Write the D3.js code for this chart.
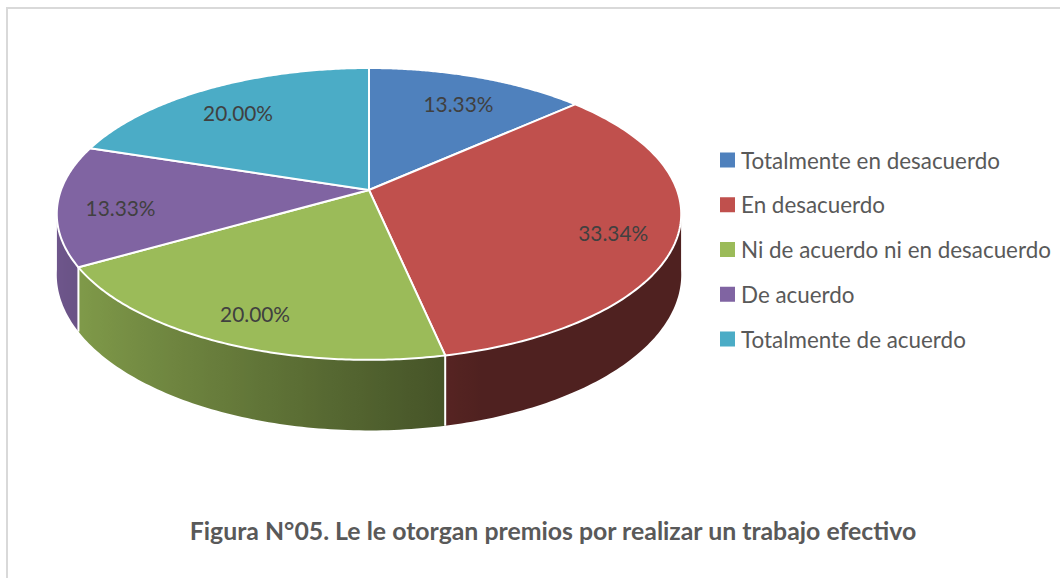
<!DOCTYPE html>
<html>
<head>
<meta charset="utf-8">
<script src="https://cdn.jsdelivr.net/npm/d3@7"></script>
<style>
  html, body { margin: 0; padding: 0; background: #ffffff; }
  svg { display: block; }
</style>
</head>
<body>
<svg id="chart" width="1060" height="578"></svg>
<script>
// ---------------- data ----------------
const categories = [
  "Totalmente en desacuerdo",
  "En desacuerdo",
  "Ni de acuerdo ni en desacuerdo",
  "De acuerdo",
  "Totalmente de acuerdo"
];
const values = [13.33, 33.34, 20.00, 13.33, 20.00];
const valueLabels = ["13.33%", "33.34%", "20.00%", "13.33%", "20.00%"];
const colors = ["#4F81BD", "#C0504D", "#9BBB59", "#8064A2", "#4BACC6"];
const titleText = "Figura N°05. Le le otorgan premios por realizar un trabajo efectivo";

// ---------------- layout ----------------
const svg = d3.select("#chart");
const FONT = "Lato, 'Open Sans', sans-serif";
const defs = svg.append("defs");

// frame
svg.append("rect")
  .attr("x", 7).attr("y", 8).attr("width", 1100).attr("height", 620)
  .attr("fill", "#ffffff").attr("stroke", "#D9D9D9").attr("stroke-width", 2);

// perspective projection of the pie disc
const cx = 369, cy = 190;   // apex of pie
const A = 142, B = 308;     // vertical / horizontal radii scale
const P = 0.164;            // perspective factor
const T = 59;               // thickness

function proj(r, theta, z) {
  const d = 1 + P * r * Math.cos(theta);
  return [cx + B * r * Math.sin(theta) / d,
          cy - A * r * Math.cos(theta) / d + (z || 0) * T / d];
}

const pie = d3.pie().sort(null).value(d => d)
  .startAngle(0).endAngle(2 * Math.PI);
const arcs = pie(values);

function shade(hex, f) {
  const c = d3.rgb(hex);
  return d3.rgb(c.r * f, c.g * f, c.b * f).formatHex();
}
function shadeFactor(theta) {
  return Math.max(0.41, 0.52 - 0.35 * Math.sin(theta));
}

const gSide = svg.append("g");
const gTop = svg.append("g");
const gLab = svg.append("g");

// visible range of the rim (front side)
const thetaR = Math.acos(-P), thetaL = 2 * Math.PI - thetaR;
const eps = 0.03;

const sides = arcs.map((a, i) => ({
  i,
  t0: Math.max(a.startAngle, thetaR - eps),
  t1: Math.min(a.endAngle, thetaL + eps)
})).filter(s => s.t1 > s.t0);

sides.forEach(s => {
  const n = 60;
  const xs = [];
  for (let k = 0; k <= n; k++) {
    const t = s.t0 + (s.t1 - s.t0) * k / n;
    xs.push({ t, x: proj(1, t, 0)[0] });
  }
  const xmin = d3.min(xs, d => d.x), xmax = d3.max(xs, d => d.x);
  const stops = xs.map(d => ({ off: (d.x - xmin) / (xmax - xmin || 1), col: shade(colors[s.i], shadeFactor(d.t)) }))
    .sort((a, b) => a.off - b.off);
  const grad = defs.append("linearGradient")
    .attr("id", "side" + s.i)
    .attr("gradientUnits", "userSpaceOnUse")
    .attr("x1", xmin).attr("y1", 0).attr("x2", xmax).attr("y2", 0);
  grad.selectAll("stop").data(stops).join("stop")
    .attr("offset", d => d.off)
    .attr("stop-color", d => d.col);
});

gSide.selectAll("path.side").data(sides).join("path")
  .attr("class", "side")
  .attr("d", s => {
    const p = d3.path();
    const n = 80;
    for (let k = 0; k <= n; k++) {
      const t = s.t0 + (s.t1 - s.t0) * k / n;
      const q = proj(1, t, 0);
      if (k === 0) p.moveTo(q[0], q[1]); else p.lineTo(q[0], q[1]);
    }
    for (let k = n; k >= 0; k--) {
      const t = s.t0 + (s.t1 - s.t0) * k / n;
      const q = proj(1, t, 1);
      p.lineTo(q[0], q[1]);
    }
    p.closePath();
    return p.toString();
  })
  .attr("fill", s => `url(#side${s.i})`);

// white dividers on visible side boundaries
const boundaries = arcs.map(a => a.startAngle).filter(t => t > thetaR && t < thetaL);
gSide.selectAll("line.div").data(boundaries).join("line")
  .attr("class", "div")
  .attr("x1", t => proj(1, t, 0)[0]).attr("y1", t => proj(1, t, 0)[1])
  .attr("x2", t => proj(1, t, 1)[0]).attr("y2", t => proj(1, t, 1)[1])
  .attr("stroke", "#ffffff").attr("stroke-width", 2);

// top faces
gTop.selectAll("path.top").data(arcs).join("path")
  .attr("class", "top")
  .attr("d", a => {
    const p = d3.path();
    p.moveTo(cx, cy);
    const n = 120;
    for (let k = 0; k <= n; k++) {
      const t = a.startAngle + (a.endAngle - a.startAngle) * k / n;
      const q = proj(1, t, 0);
      p.lineTo(q[0], q[1]);
    }
    p.closePath();
    return p.toString();
  })
  .attr("fill", (a, i) => colors[i])
  .attr("stroke", "#ffffff").attr("stroke-width", 2)
  .attr("stroke-linejoin", "round");

// fit helper
function fitSize(sel, target) {
  const node = sel.node();
  const base = parseFloat(sel.attr("font-size"));
  const w = node.getComputedTextLength();
  if (w > 0) sel.attr("font-size", base * target / w);
}

// value labels
const labelR = 0.8;
gLab.selectAll("text").data(arcs).join("text")
  .attr("x", a => proj(labelR, (a.startAngle + a.endAngle) / 2, 0)[0])
  .attr("y", a => proj(labelR, (a.startAngle + a.endAngle) / 2, 0)[1] + 9)
  .attr("text-anchor", "middle")
  .attr("dominant-baseline", "middle")
  .attr("font-family", FONT)
  .attr("font-size", 20)
  .attr("fill", "#404040")
  .text((a, i) => valueLabels[i])
  .each(function () { fitSize(d3.select(this), 70); });

// legend
const legendY = d3.scalePoint().domain(categories).range([160, 339]);
const legend = svg.append("g");
const items = legend.selectAll("g").data(categories).join("g")
  .attr("transform", d => `translate(720,${legendY(d)})`);
items.append("rect")
  .attr("x", 0).attr("y", -7.5).attr("width", 15).attr("height", 15)
  .attr("fill", (d, i) => colors[i]);
const legTexts = items.append("text")
  .attr("x", 21).attr("y", 0)
  .attr("dominant-baseline", "central")
  .attr("font-family", FONT)
  .attr("font-size", 20)
  .attr("fill", "#595959")
  .text(d => d);
{
  const first = legTexts.filter((d, i) => i === 0);
  const w = first.node().getComputedTextLength();
  legTexts.attr("font-size", 20 * 259 / w);
}

// title
const title = svg.append("text")
  .attr("x", 553).attr("y", 530)
  .attr("text-anchor", "middle")
  .attr("dominant-baseline", "central")
  .attr("font-family", FONT)
  .attr("font-weight", "bold")
  .attr("font-size", 22)
  .attr("fill", "#595959")
  .text(titleText);
fitSize(title, 727);
</script>
</body>
</html>
